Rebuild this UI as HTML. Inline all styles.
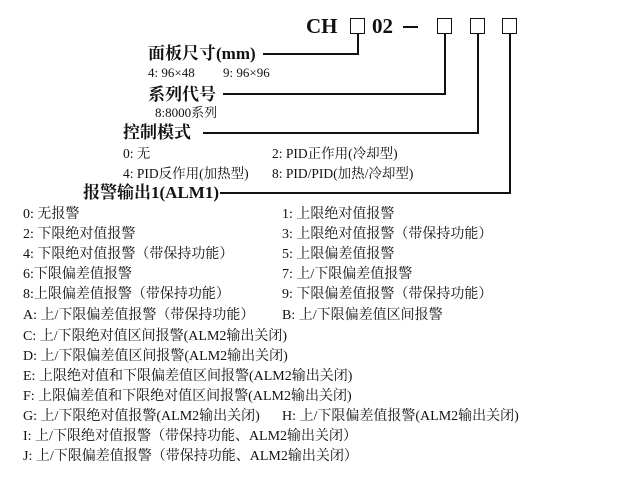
<!DOCTYPE html>
<html><head><meta charset="utf-8"><style>
body{margin:0;width:640px;height:480px;background:#fff;position:relative;overflow:hidden;font-family:"Liberation Serif","Noto Serif CJK SC",serif;color:#111}
.t{position:absolute;white-space:nowrap;font-size:14px;line-height:16px}
.b{font-weight:bold;font-size:17px;line-height:18px}
.h{position:absolute;background:#111;height:2px}
.v{position:absolute;background:#111;width:2px}
.box{position:absolute;width:13px;height:14px;border:1.5px solid #111}
.s{font-size:13px}
.m{font-size:13.5px}
</style></head><body>
<div class="t b" style="left:306px;top:14px;font-size:21px;line-height:24px">CH</div>
<div class="box" style="left:350px;top:18px"></div>
<div class="t b" style="left:372px;top:14px;font-size:21px;line-height:24px">02</div>
<div class="h" style="left:403px;top:26px;width:15px;height:1.5px"></div>
<div class="box" style="left:437px;top:18px"></div>
<div class="box" style="left:470px;top:18px"></div>
<div class="box" style="left:502px;top:18px"></div>

<div class="v" style="left:357px;top:34px;height:21px"></div>
<div class="h" style="left:263px;top:53px;width:96px"></div>
<div class="v" style="left:444px;top:34px;height:61px"></div>
<div class="h" style="left:223px;top:93px;width:223px"></div>
<div class="v" style="left:477px;top:34px;height:100px"></div>
<div class="h" style="left:203px;top:132px;width:276px"></div>
<div class="v" style="left:509px;top:34px;height:160px"></div>
<div class="h" style="left:220px;top:192px;width:291px"></div>

<div class="t b" style="left:148px;top:45px">面板尺寸(mm)</div>
<div class="t s" style="left:148px;top:65px">4: 96×48</div>
<div class="t s" style="left:223px;top:65px">9: 96×96</div>
<div class="t b" style="left:148px;top:86px">系列代号</div>
<div class="t s" style="left:155px;top:105px">8:8000系列</div>
<div class="t b" style="left:123px;top:124px">控制模式</div>
<div class="t m" style="left:123px;top:146px">0: 无</div>
<div class="t m" style="left:272px;top:146px">2: PID正作用(冷却型)</div>
<div class="t m" style="left:123px;top:166px">4: PID反作用(加热型)</div>
<div class="t m" style="left:272px;top:166px">8: PID/PID(加热/冷却型)</div>
<div class="t b" style="left:83px;top:184px">报警输出1(ALM1)</div>

<div class="t" style="left:23px;top:207px">0: 无报警</div>
<div class="t" style="left:282px;top:207px">1: 上限绝对值报警</div>
<div class="t" style="left:23px;top:227px">2: 下限绝对值报警</div>
<div class="t" style="left:282px;top:227px">3: 上限绝对值报警（带保持功能）</div>
<div class="t" style="left:23px;top:247px">4: 下限绝对值报警（带保持功能）</div>
<div class="t" style="left:282px;top:247px">5: 上限偏差值报警</div>
<div class="t" style="left:23px;top:267px">6:下限偏差值报警</div>
<div class="t" style="left:282px;top:267px">7: 上/下限偏差值报警</div>
<div class="t" style="left:23px;top:287px">8:上限偏差值报警（带保持功能）</div>
<div class="t" style="left:282px;top:287px">9: 下限偏差值报警（带保持功能）</div>
<div class="t" style="left:23px;top:308px">A: 上/下限偏差值报警（带保持功能）</div>
<div class="t" style="left:282px;top:308px">B: 上/下限偏差值区间报警</div>
<div class="t" style="left:23px;top:329px">C: 上/下限绝对值区间报警(ALM2输出关闭)</div>
<div class="t" style="left:23px;top:349px">D: 上/下限偏差值区间报警(ALM2输出关闭)</div>
<div class="t" style="left:23px;top:369px">E: 上限绝对值和下限偏差值区间报警(ALM2输出关闭)</div>
<div class="t" style="left:23px;top:389px">F: 上限偏差值和下限绝对值区间报警(ALM2输出关闭)</div>
<div class="t" style="left:23px;top:409px">G: 上/下限绝对值报警(ALM2输出关闭)</div>
<div class="t" style="left:282px;top:409px">H: 上/下限偏差值报警(ALM2输出关闭)</div>
<div class="t" style="left:23px;top:429px">I: 上/下限绝对值报警（带保持功能、ALM2输出关闭）</div>
<div class="t" style="left:23px;top:449px">J: 上/下限偏差值报警（带保持功能、ALM2输出关闭）</div>
</body></html>
